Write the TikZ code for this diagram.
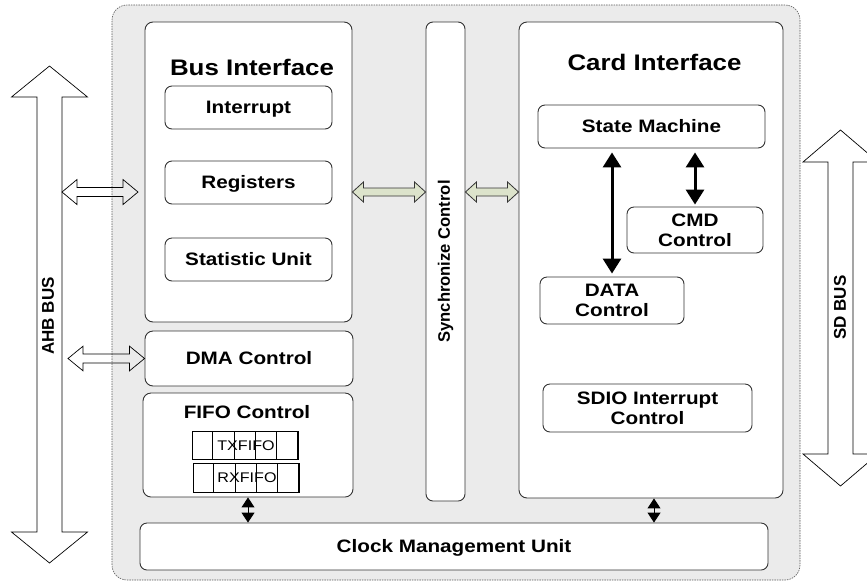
\documentclass[tikz,border=0pt]{standalone}
\usepackage{fontspec}
\setmainfont{Liberation Sans}[FakeStretch=1.15]
\newfontfamily\rotfont{Liberation Sans}
\usetikzlibrary{arrows.meta,calc}
\definecolor{bgfill}{HTML}{EBEBEB}
\definecolor{greenfill}{HTML}{DCE3CB}
\definecolor{edgegray}{HTML}{333333}
\newcommand\fsz[2]{\fontsize{#1}{#2}\selectfont}
% horizontal hollow double arrow: style, left point, right point, head length, head half width, shaft half width
\newcommand\hdarrow[6]{%
  \draw[#1] let \p1=(#2), \p2=(#3) in
    (\x1,\y1) -- (\x1+#4,\y1+#5) -- (\x1+#4,\y1+#6) -- (\x2-#4,\y1+#6) --
    (\x2-#4,\y1+#5) -- (\x2,\y1) -- (\x2-#4,\y1-#5) -- (\x2-#4,\y1-#6) --
    (\x1+#4,\y1-#6) -- (\x1+#4,\y1-#5) -- cycle;}
% vertical hollow double arrow: style, top point, bottom point, head length, head half width, shaft half width
\newcommand\vdarrow[6]{%
  \draw[#1] let \p1=(#2), \p2=(#3) in
    (\x1,\y1) -- (\x1+#5,\y1-#4) -- (\x1+#6,\y1-#4) -- (\x1+#6,\y2+#4) --
    (\x1+#5,\y2+#4) -- (\x1,\y2) -- (\x1-#5,\y2+#4) -- (\x1-#6,\y2+#4) --
    (\x1-#6,\y1-#4) -- (\x1-#5,\y1-#4) -- cycle;}
\begin{document}
\begin{tikzpicture}[x=1pt,y=-1pt,
  chipbox/.style={draw=black!65, dash pattern=on 1.5pt off 1pt, line width=0.6pt, fill=bgfill, rounded corners=15pt, inner sep=0pt},
  bigbox/.style={draw=edgegray, line width=0.9pt, fill=white, rounded corners=8pt, inner sep=0pt},
  unitbox/.style={draw=edgegray, line width=0.9pt, fill=white, rounded corners=7pt, inner sep=0pt, align=center, font=\bfseries\fsz{18}{20}},
  single/.style={text height=12.9pt, text depth=0pt},
  titletext/.style={font=\bfseries\fsz{22.5}{24}, inner sep=0pt},
  subtitle/.style={font=\bfseries\fsz{18}{20}, inner sep=0pt},
  rottext/.style={font=\rotfont\bfseries\fsz{17}{19}, rotate=90, inner sep=0pt},
  cellrow/.style={draw=black, line width=0.8pt, inner sep=0pt, minimum width=106pt},
  fifotext/.style={font=\fsz{14}{16}, inner sep=0pt},
  hollow/.style={draw=black, line width=0.7pt, fill=none, line join=miter},
  greenarrow/.style={draw=edgegray, line width=0.8pt, fill=greenfill, line join=miter},
  thickarrow/.style={line width=3pt, {Triangle[width=18pt,length=15pt]}-{Triangle[width=18pt,length=15pt]}},
  smallarrow/.style={line width=1pt, {Triangle[width=13pt,length=10pt]}-{Triangle[width=13pt,length=10pt]}}
]
\useasboundingbox (0,0) rectangle (867,582);
\clip (0,0) rectangle (867,582);

% chip outline
\node[chipbox, minimum width=688pt, minimum height=575pt] (chip) at (456,292.5) {};

% bus arrows
\coordinate (ahbtop) at (49.5,66);
\coordinate (ahbbot) at (49.5,563);
\vdarrow{hollow}{ahbtop}{ahbbot}{31pt}{38pt}{12.5pt}
\node[rottext] (ahblabel) at (48,316) {AHB BUS};

\coordinate (sdtop) at (840.5,130);
\coordinate (sdbot) at (840.5,486);
\vdarrow{hollow}{sdtop}{sdbot}{32pt}{37.5pt}{12.5pt}
\node[rottext] (sdlabel) at (840,307.5) {SD BUS};

% Bus interface
\node[bigbox, minimum width=207pt, minimum height=300pt] (bi) at (248.5,172) {};
\node[titletext] (bititle) at (252,67) {Bus Interface};
\node[unitbox, single, minimum width=167pt, minimum height=43pt] (intr) at (248.5,107.5) {Interrupt};
\node[unitbox, single, minimum width=167pt, minimum height=43pt] (reg) at (248.5,182.5) {Registers};
\node[unitbox, single, minimum width=167pt, minimum height=43pt] (stat) at (248.5,259.5) {Statistic Unit};

% DMA and FIFO
\node[bigbox, single, font=\bfseries\fsz{18}{20}, minimum width=208pt, minimum height=55pt] (dma) at (249,358.5) {DMA Control};
\node[bigbox, minimum width=210pt, minimum height=104pt] (fifo) at (248,445) {};
\node[subtitle] (fifotitle) at (247,412) {FIFO Control};
\node[cellrow, minimum height=28pt] (txrow) at (245,445) {};
\node[cellrow, minimum height=29pt] (rxrow) at (246,477.5) {};
\foreach \i in {1,...,5}{
  \draw[line width=0.8pt] (txrow.south west) ++(\i*21.2pt,0) -- ++(0,28pt);
  \draw[line width=0.8pt] (rxrow.south west) ++(\i*21.2pt,0) -- ++(0,29pt);
}
\node[fifotext] (txlabel) at (246,446) {TXFIFO};
\node[fifotext] (rxlabel) at (247,478) {RXFIFO};

% Synchronize control
\node[bigbox, rounded corners=7pt, minimum width=39pt, minimum height=479pt] (sync) at (445.5,261.5) {};
\node[font=\rotfont\bfseries\fsz{16.6}{18}, rotate=90, inner sep=0pt] (synclabel) at (sync.center) {Synchronize Control};

% Card interface
\node[bigbox, minimum width=264pt, minimum height=476pt] (card) at (651,260) {};
\node[titletext] (cardtitle) at (654.5,62.5) {Card Interface};
\node[unitbox, single, minimum width=227pt, minimum height=43pt] (sm) at (651.5,126.5) {State Machine};
\node[unitbox, minimum width=136pt, minimum height=46pt] (cmd) at (695,230) {CMD\\Control};
\node[unitbox, minimum width=144pt, minimum height=47pt] (data) at (612,300.5) {DATA\\Control};
\node[unitbox, minimum width=209pt, minimum height=48pt] (sdio) at (647.5,408) {SDIO Interrupt\\Control};

% Clock management
\node[bigbox, rounded corners=7pt, single, font=\bfseries\fsz{18}{20}, minimum width=628pt, minimum height=47pt] (clk) at (454,546.5) {Clock Management Unit};

% hollow arrows to AHB
\coordinate (lvl) at (0,192);
\coordinate (ahbport) at (62,192);
\coordinate (biport) at (138,192);
\hdarrow{hollow}{ahbport}{biport}{15pt}{12.5pt}{4.5pt}
\coordinate (dmaport) at (68,358.5);
\hdarrow{hollow}{dmaport}{dma.west}{15pt}{12.3pt}{4.5pt}

% green arrows
\hdarrow{greenarrow}{bi.east |- lvl}{sync.west |- lvl}{11pt}{10pt}{4pt}
\hdarrow{greenarrow}{sync.east |- lvl}{card.west |- lvl}{11pt}{10pt}{4pt}

% internal card arrows
\draw[thickarrow, shorten <=4pt, shorten >=3pt] (sm.south -| data.north) -- (data.north);
\draw[thickarrow, shorten <=4pt, shorten >=2pt] (sm.south -| cmd.north) -- (cmd.north);

% clock arrows
\draw[smallarrow] (fifo.south) -- (fifo.south |- clk.north);
\draw[smallarrow] ([xshift=3pt]card.south) -- ([xshift=3pt]card.south |- clk.north);
\end{tikzpicture}
\end{document}
